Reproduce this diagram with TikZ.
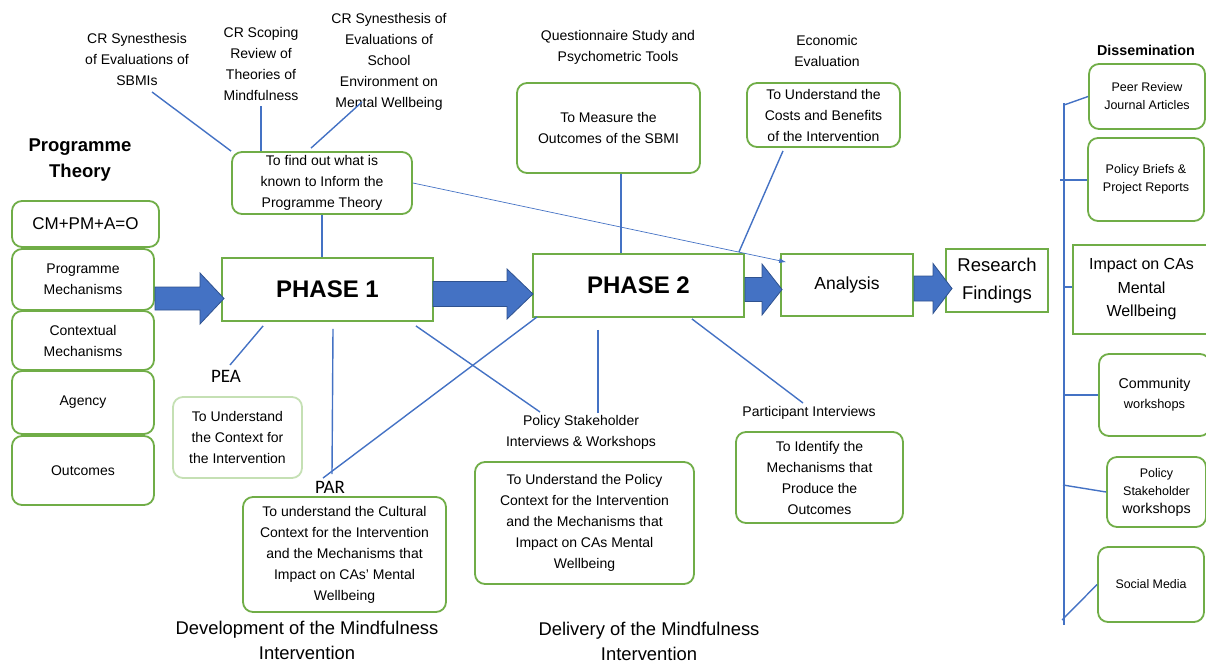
\documentclass[tikz,border=0pt]{standalone}
\usepackage{fontspec}
\setmainfont{Liberation Sans}
\newfontfamily\calfont{Carlito}
\usetikzlibrary{calc,arrows.meta}
\definecolor{pgreen}{HTML}{70AD47}
\definecolor{pale}{HTML}{C5E0B4}
\definecolor{pblue}{HTML}{4472C4}
\definecolor{dblue}{HTML}{2F528F}
\newcommand\fsz[2]{\fontsize{#1}{#2}\selectfont}
\newcommand\barr[6]{\draw[barrow] (#1,#4-#5) -- (#2,#4-#5) -- (#2,#4-#6) -- (#3,#4) -- (#2,#4+#6) -- (#2,#4+#5) -- (#1,#4+#5) -- cycle;}
\begin{document}
\begin{tikzpicture}[x=1pt,y=-1pt,
  gbox/.style={draw=pgreen,line width=1.8pt,rounded corners=10pt,align=center,inner sep=0pt,font=\fsz{14}{21}},
  sbox/.style={draw=pgreen,line width=1.8pt,align=center,inner sep=0pt},
  lab/.style={align=center,inner sep=0pt,font=\fsz{14}{21}},
  conn/.style={draw=pblue,line width=1.4pt},
  barrow/.style={fill=pblue,draw=dblue,line width=0.8pt,line join=miter}]
\useasboundingbox (0,0) rectangle (1206,664);

% left column
\node[font=\bfseries\fsz{18.5}{26},align=center,inner sep=0pt] (ptitle) at (80,160) {Programme\\Theory};
\node[gbox,minimum width=147pt,minimum height=46pt,font=\fsz{17}{21}] (cm) at (85.5,224) {CM+PM+A=O};
\node[gbox,minimum width=142pt,minimum height=61pt] (pm) at (83,279.5) {Programme\\Mechanisms};
\node[gbox,minimum width=142pt,minimum height=59pt] (cx) at (83,340.5) {Contextual\\Mechanisms};
\node[gbox,minimum width=142pt,minimum height=63pt] (ag) at (83,402.5) {Agency};
\node[gbox,minimum width=142pt,minimum height=69pt] (oc) at (83,470.5) {Outcomes};

% main row
\node[sbox,minimum width=211pt,minimum height=63pt,font=\bfseries\fsz{24}{28}] (p1) at (327.5,289.5) {PHASE 1};
\node[sbox,minimum width=211pt,minimum height=63pt,font=\bfseries\fsz{24}{28}] (p2) at (638.5,285.5) {PHASE 2};
\node[sbox,minimum width=132pt,minimum height=62pt,font=\fsz{17.5}{21}] (an) at (847,285) {Analysis};
\node[sbox,minimum width=102pt,minimum height=63pt,font=\fsz{18.5}{28}] (rf) at (997,280.5) {Research\\Findings};

% top
\node[gbox,minimum width=180pt,minimum height=62pt] (fb) at (322,183) {To find out what is\\known to Inform the\\Programme Theory};
\node[lab] (cr1) at (137,59) {CR Synesthesis\\of Evaluations of\\SBMIs};
\node[lab] (cr2) at (261,64) {CR Scoping\\Review of\\Theories of\\Mindfulness};
\node[lab] (cr3) at (389,62) {CR Synesthesis of\\Evaluations of\\School\\Environment on\\Mental Wellbeing};
\node[lab] (ql) at (618,47.5) {Questionnaire Study and\\Psychometric Tools};
\node[lab] (el) at (827,50.5) {Economic\\Evaluation};
\node[gbox,minimum width=183pt,minimum height=90pt] (qb) at (608.5,128) {To Measure the\\Outcomes of the SBMI};
\node[gbox,minimum width=153pt,minimum height=64pt] (eb) at (823.5,115) {To Understand the\\Costs and Benefits\\of the Intervention};

% bottom
\node[lab,font=\calfont\fsz{19}{21}] (pea) at (226,376) {PEA};
\node[gbox,draw=pale,minimum width=129pt,minimum height=81pt] (peab) at (237.5,437.5) {To Understand\\the Context for\\the Intervention};
\node[lab,font=\calfont\fsz{19}{21}] (par) at (330,487) {PAR};
\node[gbox,minimum width=203pt,minimum height=115pt] (parb) at (344.5,554.5) {To understand the Cultural\\Context for the Intervention\\and the Mechanisms that\\Impact on CAs’ Mental\\Wellbeing};
\node[lab,font=\fsz{18.4}{25}] (dev) at (307,640) {Development of the Mindfulness\\Intervention};
\node[lab] (psl) at (581,432.5) {Policy Stakeholder\\Interviews \& Workshops};
\node[gbox,minimum width=219pt,minimum height=122pt] (pb) at (584.5,523) {To Understand the Policy\\Context for the Intervention\\and the Mechanisms that\\Impact on CAs Mental\\Wellbeing};
\node[lab,font=\fsz{18.4}{25}] (del) at (649,641) {Delivery of the Mindfulness\\Intervention};
\node[lab] (pil) at (809,413) {Participant Interviews};
\node[gbox,minimum width=167pt,minimum height=91pt] (pib) at (819.5,477.5) {To Identify the\\Mechanisms that\\Produce the\\Outcomes};

% dissemination
\node[lab,font=\bfseries\fsz{14.3}{18}] (diss) at (1146,50) {Dissemination};
\node[gbox,font=\fsz{12.5}{18},minimum width=116pt,minimum height=65pt] (d1) at (1147,96.5) {Peer Review\\Journal Articles};
\node[gbox,font=\fsz{12.5}{18},minimum width=116pt,minimum height=83pt] (d2) at (1146,179.5) {Policy Briefs \&\\Project Reports};
\node[sbox,font=\fsz{16}{23.5},minimum width=137pt,minimum height=89pt] (d3) at (1141.5,289.5) {Impact on CAs\\Mental\\Wellbeing};
\node[gbox,font=\fsz{12.8}{20},minimum width=111pt,minimum height=82pt] (d4) at (1154.5,395) {{\fsz{14.2}{20}Community}\\workshops};
\node[gbox,font=\fsz{12.5}{18},minimum width=99pt,minimum height=70pt] (d5) at (1156.5,492) {Policy\\Stakeholder\\{\fsz{14.3}{18}workshops}};
\node[gbox,font=\fsz{12.4}{18},minimum width=106pt,minimum height=75pt] (d6) at (1151,584.5) {Social Media};

% free ends
\coordinate (cr1e) at (152,92);
\coordinate (cr2e) at (261,106);
\coordinate (cr3e) at (362,102);
\coordinate (peae) at (230,365);
\coordinate (pare1) at (332,474);
\coordinate (pare2) at (323,478);
\coordinate (psle1) at (540,412);
\coordinate (psle2) at (598,413);
\coordinate (pile) at (803,403);
\coordinate (ttop) at (1064,103);
\coordinate (tbot) at (1064,625);
\coordinate (t1) at (1064,105);
\coordinate (t2) at (1060,180);
\coordinate (t3) at (1064,287);
\coordinate (t4) at (1064,395);
\coordinate (t5) at (1063,485);
\coordinate (t6) at (1062,620);

% connectors
\draw[conn] (cr1e) -- (fb.north west);
\draw[conn] (cr2e) -- ([xshift=-61pt]fb.north);
\draw[conn] (cr3e) -- ([shift={(-11pt,3pt)}]fb.north);
\draw[conn] (fb.south) -- (fb.south |- p1.north);
\draw[pblue,line width=0.7pt,-{Latex[length=7pt,width=5pt]}] (fb.east) -- ([shift={(6pt,-9pt)}]an.north west);
\draw[conn] ([xshift=12.5pt]qb.south) -- ([xshift=12.5pt]qb.south |- p2.north);
\draw[conn] ([shift={(-40.5pt,-3pt)}]eb.south) -- ([shift={(-6pt,1pt)}]p2.north east);
\draw[conn] ([shift={(42pt,-4pt)}]p1.south west) -- (peae);
\draw[conn] ([shift={(5.5pt,-7pt)}]p1.south) -- (pare1);
\draw[conn] ([shift={(5pt,1pt)}]p2.south west) -- (pare2);
\draw[conn] ([shift={(-18pt,-4pt)}]p1.south east) -- (psle1);
\draw[conn] ([shift={(-40.5pt,-12pt)}]p2.south) -- (psle2);
\draw[conn] ([shift={(-53pt,-1pt)}]p2.south east) -- (pile);

\draw[conn] (ttop) -- (tbot);
\draw[conn] (t1) -- (d1.west);
\draw[conn] (t2) -- (t2 -| d2.west);
\draw[conn] (t3) -- (t3 -| d3.west);
\draw[conn] (t4) -- (t4 -| d4.west);
\draw[conn] (t5) -- (d5.west);
\draw[conn] (t6) -- (d6.west);

% block arrows
\barr{155}{200}{224}{298.5}{11.5}{25.5}
\barr{433}{507}{533}{294}{12.5}{25}
\barr{745}{762}{782}{289.5}{12}{25.5}
\barr{914}{933}{952}{288.5}{12.5}{25}
\end{tikzpicture}
\end{document}
